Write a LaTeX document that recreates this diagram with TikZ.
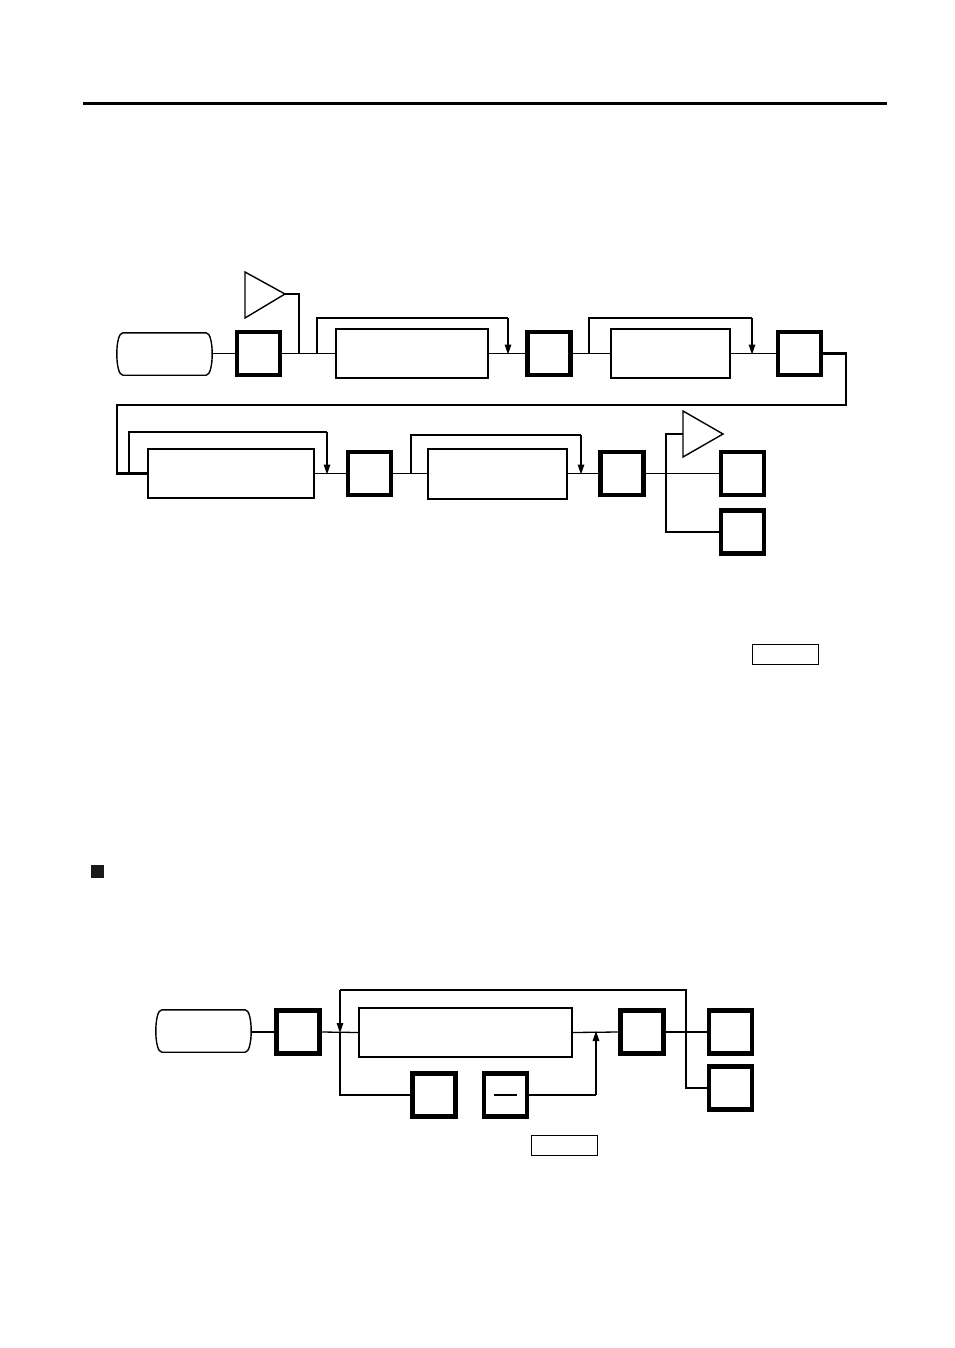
\documentclass[tikz,border=0pt]{standalone}
\usetikzlibrary{arrows.meta}
\tikzset{
  sq/.style={draw, line width=4.2pt, minimum width=43pt, minimum height=43pt, inner sep=0pt},
  rb/.style={draw, line width=2pt, inner sep=0pt},
  smallrect/.style={draw, line width=1.2pt, minimum width=66pt, minimum height=20pt, inner sep=0pt},
  term/.style={minimum width=95pt, minimum height=42pt, inner sep=0pt},
  conn/.style={line width=1.3pt},
  arr/.style={line width=1.3pt, -{Triangle[length=10pt,width=6.5pt]}},
  tri/.style={line width=1.4pt, line join=miter},
}
\newcommand{\termshape}[1]{%
  \draw[line width=1.4pt] ([xshift=6pt]#1.north west) -- ([xshift=-6pt]#1.north east)
    .. controls ([xshift=2pt]#1.north east) and ([xshift=2pt]#1.south east) .. ([xshift=-6pt]#1.south east)
    -- ([xshift=6pt]#1.south west)
    .. controls ([xshift=-2pt]#1.south west) and ([xshift=-2pt]#1.north west) .. cycle;}
\begin{document}
\begin{tikzpicture}[x=1pt,y=-1pt]
\useasboundingbox (0,0) rectangle (954,1348);
\fill[white] (0,0) rectangle (954,1348);
% top rule
\coordinate (ruleL) at (83,104);
\coordinate (ruleR) at (887,104);
\draw[line width=3pt] (ruleL) -- (ruleR);

% ---------- first diagram ----------
\node[term] (t1) at (164.5,354) {};
\termshape{t1}
\node[sq] (s1) at (258.5,353.5) {};
\node[rb, minimum width=152pt, minimum height=49pt] (r1) at (412,353.5) {};
\node[sq] (s2) at (549,353.5) {};
\node[rb, minimum width=119pt, minimum height=49pt] (r2) at (670.5,353.5) {};
\node[sq] (s3) at (799.5,353.5) {};
\node[rb, minimum width=166pt, minimum height=49pt] (r3) at (231,473.5) {};
\node[sq] (s4) at (369.5,473.5) {};
\node[rb, minimum width=139pt, minimum height=50pt] (r4) at (497.5,473.5) {};
\node[sq] (s5) at (622,473.5) {};
\node[sq] (s6) at (742.5,473.5) {};
\node[sq] (s7) at (742.5,532) {};

% triangles
\coordinate (tri1) at (285,294);
\draw[tri] (245,272) -- (tri1) -- (245,318) -- cycle;
\coordinate (tri2L) at (683,434);
\draw[tri] (683,411) -- (723,434) -- (683,457) -- cycle;

% connectors row 1
\draw[conn] (t1.east |- s1.west) -- (s1.west);
\draw[conn] (s1.east) -- (r1.west);
\draw[conn] (tri1) -- (299,294) -- (299,353.5);
\draw[conn] (317,353.5) -- (317,318) -- (508,318);
\draw[arr] (508,318) -- (508,354.5);
\draw[conn] (r1.east) -- (s2.west);
\draw[conn] (s2.east) -- (r2.west);
\draw[conn] (589,353.5) -- (589,318) -- (752,318);
\draw[arr] (752,318) -- (752,354.5);
\draw[conn] (r2.east) -- (s3.west);
\draw[line width=2.2pt] (s3.east) -- (846,353.5) -- (846,405) -- (117,405) -- (117,473.5) -- (r3.west);
% row 2
\draw[conn] (129,473.5) -- (129,432) -- (327,432);
\draw[arr] (327,432) -- (327,474.5);
\draw[conn] (r3.east) -- (s4.west);
\draw[conn] (s4.east) -- (r4.west);
\draw[conn] (411,473.5) -- (411,435) -- (581,435);
\draw[arr] (581,435) -- (581,474.5);
\draw[conn] (r4.east) -- (s5.west);
\draw[conn] (s5.east) -- (s6.west);
\draw[conn] (tri2L) -- (666,434) -- (666,532) -- (s7.west);

% small rect
\node[smallrect] (sr1) at (785.5,654.5) {};

% bullet
\fill[black!90] (91,865) rectangle (104,878);

% ---------- second diagram ----------
\node[term] (t2) at (203.5,1031) {};
\termshape{t2}
\node[sq] (b1) at (298,1032) {};
\node[rb, minimum width=213pt, minimum height=49pt] (r5) at (465.5,1032.5) {};
\node[sq] (b2) at (434,1095) {};
\node[sq] (b3) at (505.5,1095) {};
\coordinate (mL) at (494,1095);
\coordinate (mR) at (517,1095);
\draw[line width=2pt] (mL) -- (mR);
\node[sq] (b4) at (642,1032) {};
\node[sq] (b5) at (730.5,1032) {};
\node[sq] (b6) at (730.5,1088) {};

\draw[conn] (t2.east |- b1.west) -- (b1.west);
\draw[conn] (b1.east) -- (r5.west);
\draw[conn] (r5.east) -- (b4.west);
\draw[conn] (b4.east) -- (b5.west);
\draw[conn] (b6.west) -- (686,1088) -- (686,990) -- (340,990);
\draw[arr] (340,990) -- (340,1033);
\draw[conn] (340,1032) -- (340,1095) -- (b2.west);
\draw[conn] (b3.east) -- (596,1095);
\draw[arr] (596,1095) -- (596,1031);

\node[smallrect] (sr2) at (564.5,1145.5) {};
\end{tikzpicture}
\end{document}
